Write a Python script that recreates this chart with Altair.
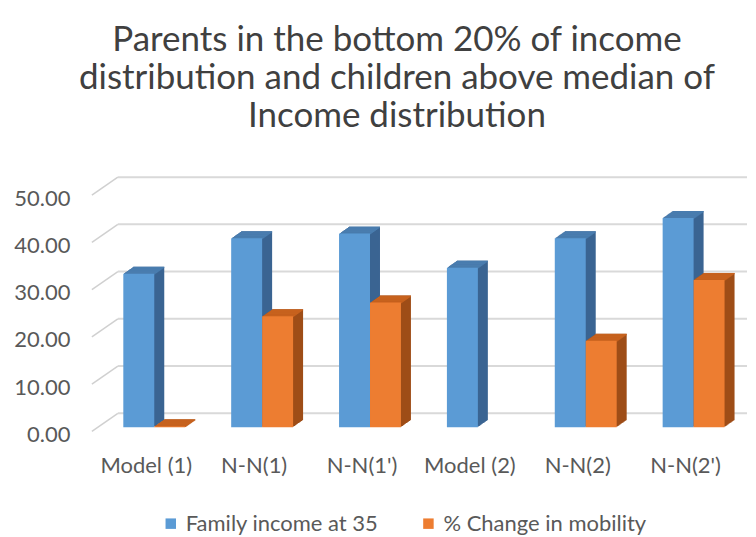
import altair as alt
import pandas as pd

# ---- data ----
categories = ["Model (1)", "N-N(1)", "N-N(1')", "Model (2)", "N-N(2)", "N-N(2')"]
family_income = [32.5, 40.0, 41.0, 33.8, 40.0, 44.3]
mobility_change = [0.2, 23.5, 26.4, None, 18.3, 31.2]
series_names = ["Family income at 35", "% Change in mobility"]
tick_values = [0, 10, 20, 30, 40, 50]
title_lines = ["Parents in the bottom 20% of income",
               "distribution  and children above median of",
               "Income distribution"]

# ---- styling ----
front_colors = ["#5B9BD5", "#ED7D31"]
top_colors = ["#4A7DAF", "#C7621E"]
side_colors = ["#3A6492", "#9E4D17"]
FONT = "Lato"
TXT = "#595959"
W, H = 647, 236.5
BAR = 31
DX, DY, N = 10, 7, 10
BACK = 14

rows = []
for c, a, b in zip(categories, family_income, mobility_change):
    rows.append({"cat": c, "series": series_names[0], "value": a})
    if b is not None:
        rows.append({"cat": c, "series": series_names[1], "value": b})
df = pd.DataFrame(rows)
grid_df = pd.DataFrame({"tick": tick_values})

yscale = alt.Scale(domain=[0, 50], nice=False, zero=True)
xscale = alt.Scale(domain=categories, paddingInner=0.4, paddingOuter=0.195)

x_axis = alt.Axis(title=None, labelAngle=0, labelFont=FONT, labelFontSize=22,
                  labelColor=TXT, labelPadding=28, labelOffset=-8,
                  ticks=False, domain=False, grid=False)
y_axis = alt.Axis(title=None, values=tick_values, format=".2f", labelFont=FONT,
                  labelFontSize=22, labelColor=TXT, labelPadding=31,
                  labelOffset=7, ticks=False, domain=False, grid=False)

base = alt.Chart(df)
layers = []

# back-wall gridlines
layers.append(
    alt.Chart(grid_df).mark_rule(color="#D9D9D9", strokeWidth=2, yOffset=-BACK).encode(
        y=alt.Y("tick:Q", scale=yscale, axis=y_axis),
        x=alt.value(17), x2=alt.value(W))
)
# side-wall diagonals
layers.append(
    alt.Chart(grid_df).mark_rule(color="#D0D0D0", strokeWidth=1.5, yOffset=4,
                                 y2Offset=-BACK).encode(
        y=alt.Y("tick:Q", scale=yscale, axis=y_axis),
        y2=alt.Y2("tick:Q"),
        x=alt.value(-9), x2=alt.value(17))
)

legend = alt.Legend(title=None, orient="none", legendX=59, legendY=322,
                    direction="horizontal", padding=0,
                    symbolType="square", symbolSize=110, symbolStrokeWidth=0,
                    labelFont=FONT, labelFontSize=22, labelColor=TXT,
                    labelLimit=0, labelOffset=4, columnPadding=39)

for i, s in enumerate(series_names):
    sign = -1 if i == 0 else 1
    off0 = sign * BAR / 2
    sub = base.transform_filter(alt.datum.series == s)
    step_x = DX / N
    step_y = DY / N
    # extrusion (side colour)
    for k in range(1, N + 1):
        layers.append(
            sub.mark_bar(size=BAR, color=side_colors[i], xOffset=off0 + k * step_x,
                         yOffset=-k * step_y, y2Offset=-k * step_y).encode(
                x=alt.X("cat:N", scale=xscale, axis=x_axis),
                y=alt.Y("value:Q", scale=yscale, axis=y_axis))
        )
    # top face
    for k in range(1, N + 1):
        layers.append(
            sub.mark_bar(size=BAR, color=top_colors[i], xOffset=off0 + k * step_x,
                         yOffset=-k * step_y, y2Offset=-(k - 1) * step_y + 0.6).encode(
                x=alt.X("cat:N", scale=xscale, axis=x_axis),
                y=alt.Y("value:Q", scale=yscale, axis=y_axis),
                y2=alt.Y2("value:Q"))
        )
    # front face
    layers.append(
        sub.mark_bar(size=BAR, xOffset=off0).encode(
            x=alt.X("cat:N", scale=xscale, axis=x_axis),
            y=alt.Y("value:Q", scale=yscale, axis=y_axis),
            color=alt.Color("series:N",
                            scale=alt.Scale(domain=series_names, range=front_colors),
                            legend=legend))
    )

chart = alt.layer(*layers).properties(
    width=W, height=H,
    padding={"left": 5, "top": 15, "right": 0, "bottom": 0},
    title=alt.TitleParams(text=title_lines, font=FONT, fontSize=35, fontWeight="normal",
                          color="#404040", lineHeight=38, anchor="middle", frame="group",
                          dx=-27, offset=42),
).configure_view(stroke=None)

chart.save("out.html", embed_options={"renderer": "svg", "actions": False})
